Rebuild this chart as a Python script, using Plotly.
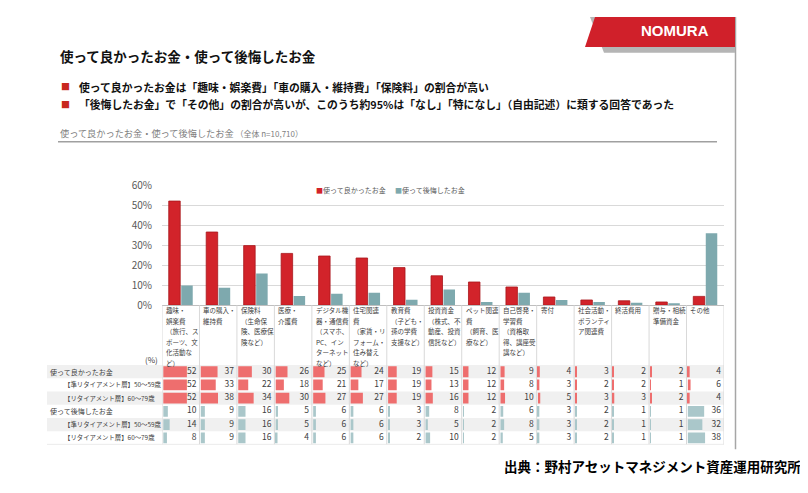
import plotly.graph_objects as go

# The page body has an 8px default margin, so the figure is drawn 800x485 and
# placed so that it fills the 808x493 window exactly.
OFF = 8
W, H = 800, 485
FONT = "Noto Sans CJK JP"

# ---------------- data ----------------
categories = [
    "趣味・\n娯楽費\n（旅行、ス\nポーツ、文\n化活動な\nど）",
    "車の購入・\n維持費",
    "保険料\n（生命保\n険、医療保\n険など）",
    "医療・\n介護費",
    "デジタル機\n器・通信費\n（スマホ、\nPC、イン\nターネット\nなど）",
    "住宅関連\n費\n（家賃・リ\nフォーム・\n住み替え\nなど）",
    "教育費\n（子ども・\n孫の学費\n支援など）",
    "投資資金\n（株式、不\n動産、投資\n信託など）",
    "ペット関連\n費\n（飼育、医\n療など）",
    "自己啓発・\n学習費\n（資格取\n得、講座受\n講など）",
    "寄付",
    "社会活動・\nボランティ\nア関連費",
    "終活費用",
    "贈与・相続\n準備資金",
    "その他",
]

series_names = ["使って良かったお金", "使って後悔したお金"]
good_pct = [52.1, 36.6, 29.8, 25.9, 24.6, 23.6, 18.8, 14.7, 11.6, 9.1, 4.1, 2.6, 2.2, 1.6, 4.4]
regret_pct = [9.9, 8.7, 15.9, 4.6, 5.7, 6.2, 2.7, 7.8, 1.6, 6.2, 2.6, 1.6, 1.2, 1.0, 36.0]

y_ticks = [0, 10, 20, 30, 40, 50, 60]

row_labels = [
    "使って良かったお金",
    "【準リタイアメント層】50～59歳",
    "【リタイアメント層】60～79歳",
    "使って後悔したお金",
    "【準リタイアメント層】50～59歳",
    "【リタイアメント層】60～79歳",
]
good_all = [52, 37, 30, 26, 25, 24, 19, 15, 12, 9, 4, 3, 2, 2, 4]
good_50s = [52, 33, 22, 18, 21, 17, 19, 13, 12, 8, 3, 2, 2, 1, 6]
good_60s = [52, 38, 34, 30, 27, 27, 19, 16, 12, 10, 5, 3, 3, 2, 4]
regret_all = [10, 9, 16, 5, 6, 6, 3, 8, 2, 6, 3, 2, 1, 1, 36]
regret_50s = [14, 9, 16, 5, 6, 6, 3, 5, 2, 8, 3, 2, 1, 1, 32]
regret_60s = [8, 9, 16, 4, 6, 6, 2, 10, 2, 5, 3, 2, 1, 1, 38]

title_text = "使って良かったお金・使って後悔したお金"
bullets = [
    "使って良かったお金は「趣味・娯楽費」「車の購入・維持費」「保険料」の割合が高い",
    "「後悔したお金」で「その他」の割合が高いが、このうち約95%は「なし」「特になし」（自由記述）に類する回答であった",
]
subtitle_main = "使って良かったお金・使って後悔したお金"
subtitle_note = "（全体 n=10,710）"
source_text = "出典：野村アセットマネジメント資産運用研究所"

# ---------------- styles ----------------
RED = "#d2232a"
RED_EDGE = "#a8161c"
TEAL = "#7ea9ae"
TBL_RED = "#ee6e6e"
TBL_TEAL = "#aac7ca"
GRID = "#d9d9d9"
TXT = "#404040"


def px(x):
    return (x - OFF) / W


def py(y):
    return 1 - (y - OFF) / H


PLOT_L, PLOT_R = 162, 724
CHART_TOP, CHART_BOT = 182, 306
TABLE_BOT = 450
ROW_PX = (TABLE_BOT - 368) / 6.0
HDR_TOP = -0.5 - (368 - CHART_BOT) / ROW_PX
ROW_BOT = 5.5
BAR_K = 0.0121   # table data-bar length per percent (x units)

tables = [good_all, good_50s, good_60s, regret_all, regret_50s, regret_60s]
n = len(categories)
idx = list(range(n))

fig = go.Figure()

# main bars
fig.add_trace(go.Bar(x=idx, y=good_pct, name=series_names[0],
                     marker=dict(color=RED, line=dict(color=RED_EDGE, width=0.8)),
                     xaxis="x", yaxis="y", hoverinfo="skip"))
fig.add_trace(go.Bar(x=idx, y=regret_pct, name=series_names[1],
                     marker=dict(color=TEAL, line=dict(width=0)),
                     xaxis="x", yaxis="y", hoverinfo="skip"))

# table data bars (single trace)
tx, ty, tb, tc = [], [], [], []
for r, vals in enumerate(tables):
    for c, v in enumerate(vals):
        tx.append(v * BAR_K)
        ty.append(r)
        tb.append(c - 0.5 + 0.035)
        tc.append(TBL_RED if r < 3 else TBL_TEAL)
fig.add_trace(go.Bar(x=tx, y=ty, base=tb, orientation="h", width=0.82,
                     marker=dict(color=tc, line=dict(width=0)),
                     xaxis="x2", yaxis="y2", showlegend=False, hoverinfo="skip"))

# table numbers
nx, ny, nt = [], [], []
for r, vals in enumerate(tables):
    for c, v in enumerate(vals):
        nx.append(c + 0.42)
        ny.append(r)
        nt.append(str(v))
fig.add_trace(go.Scatter(x=nx, y=ny, text=nt, mode="text", textposition="middle left",
                         textfont=dict(family=FONT, size=8.5, color=TXT),
                         xaxis="x2", yaxis="y2", showlegend=False, hoverinfo="skip"))

shapes = []
# row banding
for r in (0, 2, 4):
    shapes.append(dict(type="rect", xref="paper", yref="y2", x0=px(47), x1=px(PLOT_R),
                       y0=r - 0.5, y1=r + 0.5, fillcolor="#f0f0f0", line=dict(width=0),
                       layer="below"))
# column borders
for c in range(n + 1):
    shapes.append(dict(type="line", xref="x2", yref="y2", x0=c - 0.5, x1=c - 0.5,
                       y0=HDR_TOP, y1=ROW_BOT, line=dict(color=GRID, width=1), layer="below"))
# bottom table line
shapes.append(dict(type="line", xref="paper", yref="y2", x0=px(47), x1=px(PLOT_R),
                   y0=ROW_BOT, y1=ROW_BOT, line=dict(color=GRID, width=1), layer="below"))
# subtitle underline
shapes.append(dict(type="line", xref="paper", yref="paper", x0=px(58), x1=px(717),
                   y0=py(137), y1=py(137), line=dict(color="#a0a0a0", width=1.6)))
# right frame line
shapes.append(dict(type="line", xref="paper", yref="paper", x0=px(735.5), x1=px(735.5),
                   y0=py(8), y1=py(455), line=dict(color="#a6a6a6", width=1.5)))


def path(points):
    return "M " + " L ".join(f"{px(x):.5f},{py(y):.5f}" for x, y in points) + " Z"


# NOMURA banner
shapes.append(dict(type="path", xref="paper", yref="paper",
                   path=path([(590, 8), (735, 8), (735, 45), (604, 45)]),
                   fillcolor="#b5b5b5", line=dict(width=0)))
shapes.append(dict(type="path", xref="paper", yref="paper",
                   path=path([(595, 8), (735, 8), (735, 39), (585, 39)]),
                   fillcolor="#d0202a", line=dict(width=0)))

ann = []
ann.append(dict(text="<b>NOMURA</b>", x=px(675), y=py(22), xref="paper", yref="paper",
                showarrow=False, font=dict(family="Liberation Sans", size=15, color="white"),
                xanchor="center", yanchor="middle"))
# title
ann.append(dict(text=f"<b>{title_text}</b>", x=px(58), y=py(48), xref="paper", yref="paper",
                showarrow=False, font=dict(family=FONT, size=13.5, color="#111111"),
                xanchor="left", yanchor="middle"))
# bullets
for i, b in enumerate(bullets):
    yy = 80 + i * 18
    ann.append(dict(text="■", x=px(59), y=py(yy), xref="paper", yref="paper",
                    showarrow=False, font=dict(family=FONT, size=9, color="#c8281e"),
                    xanchor="left", yanchor="middle"))
    ann.append(dict(text=f"<b>{b}</b>", x=px(77), y=py(yy), xref="paper", yref="paper",
                    showarrow=False, font=dict(family=FONT, size=10.8, color="#111111"),
                    xanchor="left", yanchor="middle"))
# subtitle
ann.append(dict(text=f"{subtitle_main}<span style='font-size:8px'> {subtitle_note}</span>",
                x=px(58), y=py(128), xref="paper", yref="paper", showarrow=False,
                font=dict(family=FONT, size=9.2, color="#7f7f7f"),
                xanchor="left", yanchor="middle"))
# legend
ann.append(dict(text=f"<span style='color:{RED}'>■</span>{series_names[0]}",
                x=px(314), y=py(187), xref="paper", yref="paper", showarrow=False,
                font=dict(family=FONT, size=7, color="#595959"), xanchor="left", yanchor="middle"))
ann.append(dict(text=f"<span style='color:{TEAL}'>■</span>{series_names[1]}",
                x=px(393), y=py(187), xref="paper", yref="paper", showarrow=False,
                font=dict(family=FONT, size=7, color="#595959"), xanchor="left", yanchor="middle"))

# category header labels (one annotation per line for Excel-like line spacing)
LINE_U = 10.9 / ROW_PX
FIRST_U = 5.3 / ROW_PX
for c, lab in enumerate(categories):
    for k, line in enumerate(lab.split("\n")):
        ann.append(dict(text=line, x=c - 0.5 + 0.05, y=HDR_TOP + FIRST_U + k * LINE_U,
                        xref="x2", yref="y2", showarrow=False,
                        font=dict(family=FONT, size=6.5, color=TXT),
                        xanchor="left", yanchor="middle"))
# (%) label
ann.append(dict(text="(%)", x=px(160), y=-0.5 - 6 / ROW_PX, xref="paper", yref="y2",
                showarrow=False, font=dict(family=FONT, size=8, color=TXT),
                xanchor="right", yanchor="middle"))
# row labels
for r, lab in enumerate(row_labels):
    indent = r not in (0, 3)
    ann.append(dict(text=lab, x=px(62 if indent else 48), y=r, xref="paper", yref="y2",
                    showarrow=False,
                    font=dict(family=FONT, size=6.4 if indent else 7, color=TXT),
                    xanchor="left", yanchor="middle"))
# source
ann.append(dict(text=f"<b>{source_text}</b>", x=px(803), y=py(472), xref="paper", yref="paper",
                showarrow=False, font=dict(family=FONT, size=13.5, color="#000000"),
                xanchor="right", yanchor="middle"))

fig.update_layout(
    width=W, height=H,
    margin=dict(l=0, r=0, t=0, b=0),
    paper_bgcolor="white", plot_bgcolor="rgba(0,0,0,0)",
    showlegend=False,
    barmode="group", bargap=0.333, bargroupgap=0.08,
    xaxis=dict(domain=[px(PLOT_L), px(PLOT_R)], range=[-0.5, n - 0.5], anchor="y",
               showticklabels=False, showgrid=False, zeroline=False,
               showline=True, linecolor="#bfbfbf", linewidth=1, fixedrange=True),
    yaxis=dict(domain=[py(CHART_BOT), py(CHART_TOP)], range=[0, 60], anchor="x",
               tickvals=y_ticks, ticktext=[f"{v}%" for v in y_ticks],
               tickfont=dict(family=FONT, size=10, color="#595959"),
               showgrid=True, gridcolor=GRID, gridwidth=1, zeroline=False,
               ticks="outside", ticklen=7, tickcolor="rgba(0,0,0,0)", showline=False),
    xaxis2=dict(domain=[px(PLOT_L), px(PLOT_R)], range=[-0.5, n - 0.5], anchor="y2",
                visible=False),
    yaxis2=dict(domain=[py(TABLE_BOT), py(CHART_BOT)], range=[ROW_BOT, HDR_TOP], anchor="x2",
                visible=False),
    shapes=shapes,
    annotations=ann,
    font=dict(family=FONT),
)

fig.write_html("out.html")
